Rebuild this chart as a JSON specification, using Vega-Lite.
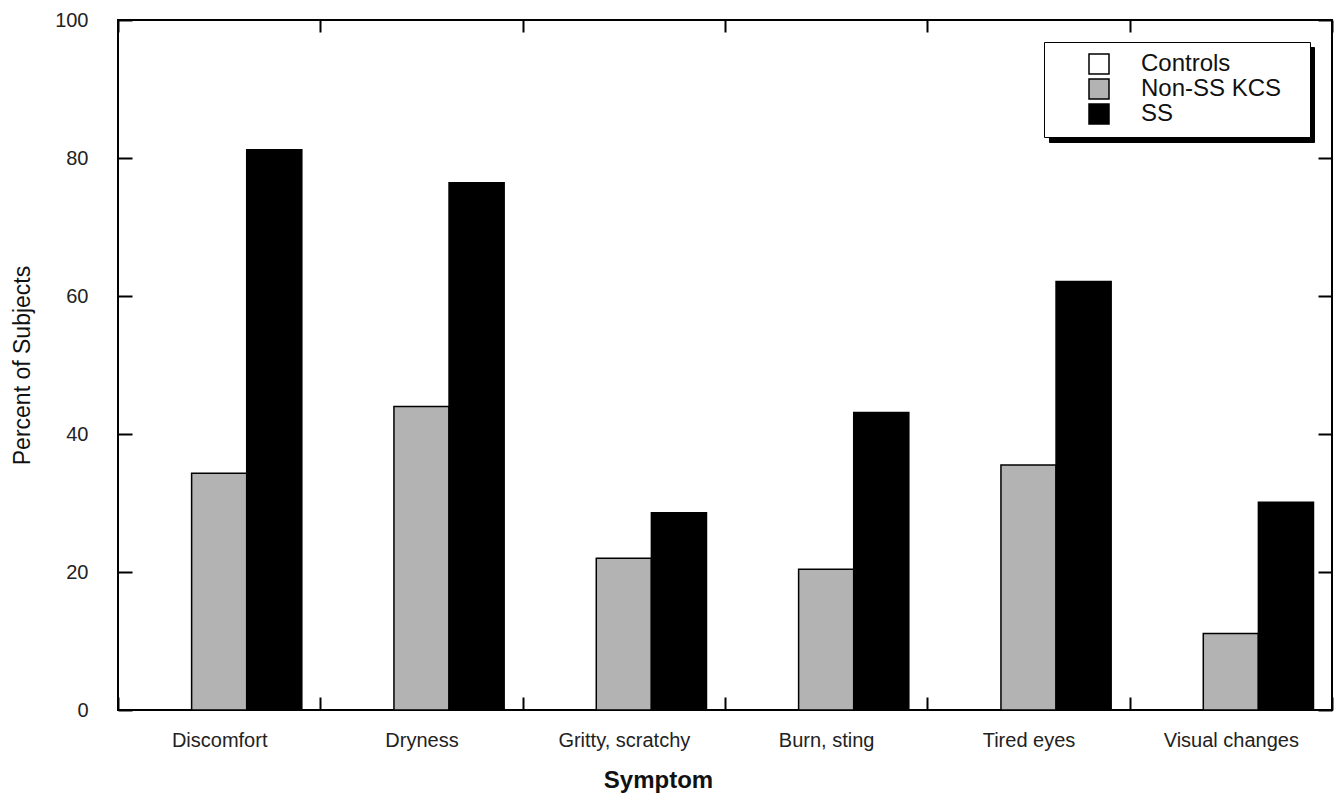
{
  "$schema": "https://vega.github.io/schema/vega-lite/v6.json",
  "width": 1214,
  "height": 690,
  "autosize": {"type": "none"},
  "padding": {"left": 118, "top": 20, "right": 8, "bottom": 100},
  "background": "white",
  "data": {
    "values": [
      {"symptom": "Discomfort", "group": "Controls", "percent": 0},
      {"symptom": "Discomfort", "group": "Non-SS KCS", "percent": 34.3},
      {"symptom": "Discomfort", "group": "SS", "percent": 81.2},
      {"symptom": "Dryness", "group": "Controls", "percent": 0},
      {"symptom": "Dryness", "group": "Non-SS KCS", "percent": 44.0},
      {"symptom": "Dryness", "group": "SS", "percent": 76.4},
      {"symptom": "Gritty, scratchy", "group": "Controls", "percent": 0},
      {"symptom": "Gritty, scratchy", "group": "Non-SS KCS", "percent": 22.0},
      {"symptom": "Gritty, scratchy", "group": "SS", "percent": 28.6},
      {"symptom": "Burn, sting", "group": "Controls", "percent": 0},
      {"symptom": "Burn, sting", "group": "Non-SS KCS", "percent": 20.4},
      {"symptom": "Burn, sting", "group": "SS", "percent": 43.1},
      {"symptom": "Tired eyes", "group": "Controls", "percent": 0},
      {"symptom": "Tired eyes", "group": "Non-SS KCS", "percent": 35.5},
      {"symptom": "Tired eyes", "group": "SS", "percent": 62.1},
      {"symptom": "Visual changes", "group": "Controls", "percent": 0},
      {"symptom": "Visual changes", "group": "Non-SS KCS", "percent": 11.1},
      {"symptom": "Visual changes", "group": "SS", "percent": 30.1}
    ]
  },
  "layer": [
    {
      "mark": {"type": "bar", "opacity": 0},
      "encoding": {
        "x": {
          "field": "symptom", "type": "nominal", "sort": null,
          "scale": {"paddingInner": 0, "paddingOuter": 0},
          "axis": {"orient": "top", "labels": false, "title": null, "tickBand": "extent", "tickSize": -12}
        },
        "xOffset": {"field": "group", "type": "nominal", "sort": null, "scale": {"paddingInner": 0, "paddingOuter": 0.336}},
        "y": {
          "field": "percent", "type": "quantitative",
          "scale": {"domain": [0, 100], "nice": false},
          "axis": {"orient": "right", "labels": false, "title": null, "values": [0, 20, 40, 60, 80, 100], "tickSize": -14}
        },
        "color": {
          "field": "group", "type": "nominal", "sort": null,
          "scale": {"domain": ["Controls", "Non-SS KCS", "SS"], "range": ["black", "black", "black"]},
          "legend": {
            "title": null, "orient": "none", "legendX": 931, "legendY": 27, "zindex": 0,
            "fillColor": "black", "strokeColor": "black",
            "padding": 10, "symbolOffset": 220, "symbolType": "square", "symbolSize": 400,
            "symbolStrokeColor": "black", "symbolStrokeWidth": 1.5,
            "labelFontSize": 24, "labelColor": "black", "labelOffset": 0, "rowPadding": -1.5, "labelLimit": 400,
            "labelExpr": "''"
          }
        }
      }
    },
    {
      "mark": {"type": "bar", "stroke": "black", "strokeWidth": 1.5},
      "encoding": {
        "x": {
          "field": "symptom", "type": "nominal", "sort": null,
          "scale": {"paddingInner": 0, "paddingOuter": 0},
          "axis": {
            "orient": "bottom", "tickBand": "extent", "tickSize": -13, "labelPadding": 33,
            "labelAngle": 0, "labelBaseline": "top", "labelFontSize": 20,
            "title": "Symptom", "titleFontSize": 24, "titleFontWeight": "bold",
            "titleX": 540, "titleY": 70, "titleBaseline": "middle", "titleAlign": "center"
          }
        },
        "xOffset": {"field": "group", "type": "nominal", "sort": null, "scale": {"paddingInner": 0, "paddingOuter": 0.336}},
        "y": {
          "field": "percent", "type": "quantitative",
          "scale": {"domain": [0, 100], "nice": false},
          "axis": {
            "orient": "left", "values": [0, 20, 40, 60, 80, 100], "tickSize": -14, "labelPadding": 44,
            "labelFontSize": 20, "title": "Percent of Subjects", "titleFontSize": 23, "titleFontWeight": "normal",
            "titleX": -96, "titleY": 345, "titleBaseline": "middle", "titleAlign": "center", "titleAngle": -90
          }
        },
        "color": {
          "field": "group", "type": "nominal", "sort": null,
          "scale": {"domain": ["Controls", "Non-SS KCS", "SS"], "range": ["white", "#b3b3b3", "black"]},
          "legend": {
            "title": null, "orient": "none", "legendX": 926, "legendY": 22, "zindex": 1,
            "fillColor": "white", "strokeColor": "black",
            "padding": 10, "symbolOffset": 33, "symbolType": "square", "symbolSize": 400,
            "symbolStrokeColor": "black", "symbolStrokeWidth": 1.5,
            "labelFontSize": 24, "labelColor": "#111", "labelOffset": 30, "rowPadding": -1.5, "labelLimit": 400,
            "labelExpr": "datum.label + '\u2800'"
          }
        }
      }
    }
  ],
  "resolve": {
    "scale": {"color": "independent"},
    "axis": {"x": "independent", "y": "independent"}
  },
  "config": {
    "font": "Liberation Sans",
    "view": {"stroke": "black", "strokeWidth": 2},
    "axis": {
      "domain": false, "grid": false, "tickColor": "black", "tickWidth": 2,
      "labelColor": "#222", "titleColor": "#111"
    },
    "legend": {"symbolOpacity": 1}
  }
}
